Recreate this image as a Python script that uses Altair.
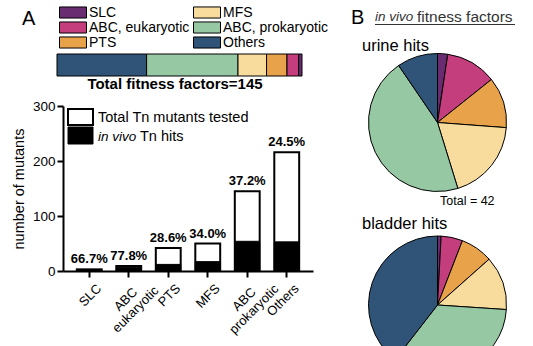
import altair as alt
import pandas as pd

FONT = "Liberation Sans"

# ---------------- data ----------------
categories = ["SLC", "ABC, eukaryotic", "PTS", "MFS", "ABC, prokaryotic", "Others"]
axis_labels = ["SLC", "ABC\u00a0\u00a0\u00a0\u00a0\neukaryotic", "PTS", "MFS",
               "ABC\u00a0\u00a0\u00a0\u00a0\nprokaryotic", "Others"]
total_tested = [3, 9, 42, 50, 145, 216]
tn_hits = [2, 7, 12, 17, 54, 53]
pct_labels = ["66.7%", "77.8%", "28.6%", "34.0%", "37.2%", "24.5%"]
stack_order = [6, 5, 4, 3, 2, 1]          # Others drawn first (left)
pie_order = [1, 2, 3, 4, 5, 6]            # SLC first (12 o'clock, clockwise)
urine_hits = [1, 5, 5, 8, 19, 4]
bladder_hits = [1, 6, 9, 15, 41, 47]
palette = ["#6A2C70", "#C43D7C", "#E8A249", "#F8DC9E", "#96C9A3", "#2F5477"]

color_enc = alt.Color(
    "category:N",
    scale=alt.Scale(domain=categories, range=palette),
    legend=alt.Legend(
        title=None, orient="none", legendX=59, legendY=5, columns=2,
        symbolType="M-1,-0.41H1V0.41H-1Z", symbolSize=729,
        symbolStrokeColor="black", symbolStrokeWidth=1, symbolOpacity=1,
        clipHeight=15, rowPadding=0, columnPadding=3, padding=0,
        labelFontSize=14, labelOffset=2, labelFont=FONT, labelColor="black",
    ),
)

# ---------------- Panel A: stacked bar ----------------
stack_df = pd.DataFrame({"category": categories, "hits": tn_hits, "ord": stack_order,
                         "row": ["Total fitness factors"] * len(categories)})
stacked = alt.Chart(stack_df).mark_bar(stroke="black", strokeWidth=1).encode(
    x=alt.X("hits:Q", stack="zero", axis=None,
            scale=alt.Scale(domain=[0, sum(tn_hits)], range=[57, 302], nice=False)),
    y=alt.Y("row:N", axis=None,
            scale=alt.Scale(range=[54, 76], paddingInner=0, paddingOuter=0)),
    color=color_enc,
    order=alt.Order("ord:Q"),
)

# ---------------- Panel A: bar chart ----------------
bar_df = pd.DataFrame({"label": axis_labels, "total": total_tested,
                       "hits": tn_hits, "pct": pct_labels})

multi = "indexof(datum.value, '\\n') >= 0"
x_bar = alt.X(
    "label:N", sort=axis_labels, title=None,
    scale=alt.Scale(range=[63, 313], paddingInner=0.37, paddingOuter=0.35),
    axis=alt.Axis(orient="bottom", offset=-75, labelAngle=-45,
                  labelAlign={"condition": {"test": multi, "value": "center"}, "value": "right"},
                  labelOffset={"condition": {"test": multi, "value": -3}, "value": 10},
                  labelPadding={"condition": {"test": multi, "value": 22}, "value": 9},
                  labelBaseline="middle", labelExpr="split(datum.label, '\\n')",
                  labelFontSize=13, labelFont=FONT, labelColor="black",
                  domainColor="black", domainWidth=2, tickColor="black", tickWidth=2,
                  tickSize=6, labelLineHeight=14, labelBound=False, labelOverlap=False),
)
y_axis = alt.Axis(orient="left", offset=-63, values=[0, 100, 200, 300], grid=False,
                  labelFontSize=13.5, labelFont=FONT, labelColor="black", labelPadding=2,
                  domainColor="black", domainWidth=2, tickColor="black", tickWidth=2,
                  tickSize=6, title="number of mutants", titleFont=FONT, titleFontSize=14.5,
                  titleFontWeight="normal", titleColor="black", titlePadding=6)
y_scale = alt.Scale(domain=[0, 300], range=[271, 106], nice=False)

total_bars = alt.Chart(bar_df).mark_bar(fill="white", stroke="black", strokeWidth=2).encode(
    x=x_bar, y=alt.Y("total:Q", scale=y_scale, axis=y_axis))
hit_bars = alt.Chart(bar_df).mark_bar(fill="black", stroke="black", strokeWidth=1).encode(
    x=x_bar, y=alt.Y("hits:Q", scale=y_scale, axis=y_axis))
pct_text = alt.Chart(bar_df).mark_text(font=FONT, fontSize=13, fontWeight="bold",
                                       baseline="alphabetic", dy=-6, color="black").encode(
    x=x_bar, y=alt.Y("total:Q", scale=y_scale, axis=y_axis), text="pct:N")
bar_chart = alt.layer(total_bars, hit_bars, pct_text)

# ---------------- Panel B: pies ----------------
urine_df = pd.DataFrame({"category": categories, "n": urine_hits, "ord": pie_order})
bladder_df = pd.DataFrame({"category": categories, "n": bladder_hits, "ord": pie_order})

def pie(df, cx, cy):
    return alt.Chart(df).mark_arc(outerRadius=69, stroke="black", strokeWidth=1).encode(
        theta=alt.Theta("n:Q", stack=True),
        color=color_enc,
        order=alt.Order("ord:Q"),
        x=alt.value(cx), y=alt.value(cy),
    )

pie_urine = pie(urine_df, 437.5, 122.5)
pie_bladder = pie(bladder_df, 437.5, 305)

# ---------------- annotations ----------------
one = pd.DataFrame({"a": [0]})

def txt(s, x, y, size=14, weight="normal", style="normal", align="left",
        baseline="middle", color="black"):
    return alt.Chart(one).mark_text(text=s, font=FONT, fontSize=size, fontWeight=weight,
                                    fontStyle=style, align=align, baseline=baseline,
                                    color=color).encode(x=alt.value(x), y=alt.value(y))

def box(x1, x2, y1, y2, fill, stroke="black", sw=2):
    return alt.Chart(one).mark_rect(fill=fill, stroke=stroke, strokeWidth=sw).encode(
        x=alt.value(x1), x2=alt.value(x2), y=alt.value(y1), y2=alt.value(y2))

annots = [
    txt("A", 22, 19, size=20),
    txt("Total fitness factors=145", 175, 84, size=15, weight="bold", align="center"),
    box(68, 93, 109, 125, "white"),
    box(68, 93, 127, 144, "black", sw=1),
    txt("Total Tn mutants tested", 98, 117.5, size=14.5),
    txt("in vivo", 98, 136.5, size=13.5, style="italic"),
    txt("Tn hits", 140, 136.5, size=14.5),
    txt("B", 351, 18, size=20),
    txt("in vivo", 375, 17, size=13.5, style="italic", color="#333333"),
    txt("fitness factors", 417, 17, size=15.5, color="#333333"),
    alt.Chart(one).mark_rule(color="#333333", strokeWidth=1).encode(
        x=alt.value(375), x2=alt.value(515), y=alt.value(24.5)),
    txt("urine hits", 362, 46, size=16.5),
    txt("Total = 42", 440, 201, size=12.5),
    txt("bladder hits", 362, 224, size=16.5),
]

chart = alt.layer(
    stacked, bar_chart, pie_urine, pie_bladder, *annots
).resolve_scale(
    x="independent", y="independent", theta="independent"
).properties(
    width=533, height=346, autosize=alt.AutoSizeParams(type="none"), padding=0,
    background="white",
).configure_view(stroke=None)

chart.save("out.html", embed_options={"renderer": "svg", "actions": False})
